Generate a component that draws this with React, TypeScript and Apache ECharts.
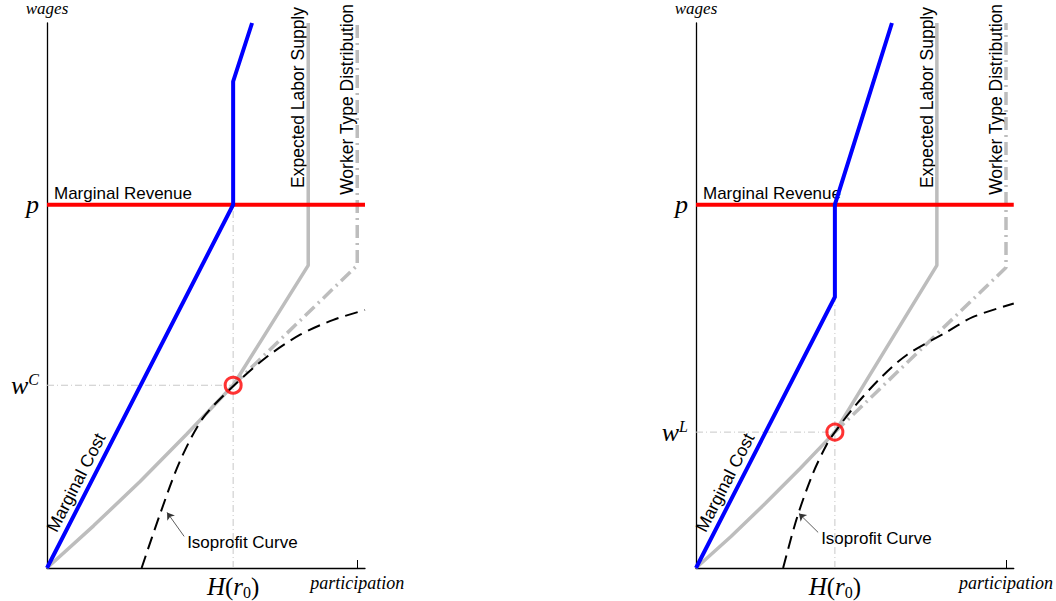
import React, { useEffect, useRef } from "react";
import * as echarts from "echarts";

// ---------- data (x: participation, y: wages; p = 1) ----------
const X_MAX = 1.025;
const Y_MAX = 1.5;
const P_LEVEL = 1;
const X_END = 1.0; // participation tick

const hLeft = 0.6; // H(r0) in left panel
const wLeft = 0.503; // w^C
const hRight = 0.448; // H(r0) in right panel
const wRight = 0.374; // w^L

const mrLine = [[0, 1], [1.025, 1]];

const mcLeft = [[0, 0], [0.6, 1], [0.6, 1.339], [0.661, 1.5]];
const mcRight = [[0, 0], [0.448, 0.746], [0.448, 1.0], [0.632, 1.5]];

const elsLeft = [[0, 0], [0.15, 0.116], [0.3, 0.238], [0.45, 0.368], [0.6, 0.503], [0.842, 0.833], [0.842, 1.5]];
const elsRight = [[0, 0], [0.112, 0.086], [0.224, 0.178], [0.336, 0.274], [0.448, 0.374], [0.777, 0.833], [0.777, 1.5]];

const wtdLeft = [[0.6, 0.503], [1.0, 0.833], [1.0, 1.5]];
const wtdRight = [[0.448, 0.374], [1.0, 0.827], [1.0, 1.5]];

const isoLeft = [[0.305, 0], [0.365, 0.15], [0.429, 0.295], [0.503, 0.413], [0.6, 0.5], [0.71, 0.582], [0.816, 0.642], [0.923, 0.683], [1.025, 0.71]];
const isoRight = [[0.281, 0], [0.326, 0.139], [0.377, 0.26], [0.423, 0.342], [0.448, 0.374], [0.506, 0.439], [0.594, 0.522], [0.681, 0.587], [0.81, 0.65], [0.894, 0.691], [1.025, 0.728]];

const arrowLeft = [[0.442, 0.087], [0.387, 0.153]];
const arrowRight = [[0.394, 0.098], [0.332, 0.15]];

const yLabelsLeft = [wLeft, P_LEVEL];
const yLabelsRight = [wRight, P_LEVEL];
const xLabelsLeft = [hLeft, X_END];
const xLabelsRight = [hRight, X_END];

const sans = "'Liberation Sans', Arial, sans-serif";
const serif = "'Liberation Serif', 'Times New Roman', serif";

const BLUE = "#0000ff";
const RED = "#ff0000";
const GRAY = "#bdbdbd";
const LIGHT = "#c8c8c8";

function panelSeries(i: number, d: any) {
  const ax = { xAxisIndex: i, yAxisIndex: i };
  const base = { type: "line", symbol: "none", silent: true, ...ax };
  return [
    { ...base, data: [[0, d.w], [d.h, d.w]], lineStyle: { color: LIGHT, width: 1, type: [7, 3, 1, 3] }, z: 1 },
    { ...base, data: [[d.h, 0], [d.h, d.vTop]], lineStyle: { color: LIGHT, width: 1, type: [7, 3, 1, 3] }, z: 1 },
    { ...base, data: d.wtd, lineStyle: { color: GRAY, width: 3.5, type: [13, 5, 2, 5] }, z: 2 },
    { ...base, data: d.els, lineStyle: { color: GRAY, width: 3.5 }, z: 3 },
    {
      ...base,
      data: d.iso,
      smooth: 0.3,
      lineStyle: { color: "#000", width: 2, type: [13, 7] },
      z: 4,
      markLine: {
        silent: true,
        symbol: ["none", "arrow"],
        symbolSize: 7,
        label: { show: false },
        lineStyle: { color: "#333", width: 0.8, type: "solid" },
        data: [[{ coord: d.arrow[0] }, { coord: d.arrow[1] }]],
      },
    },
    { ...base, data: mrLine, lineStyle: { color: RED, width: 4 }, z: 5 },
    { ...base, data: d.mc, lineStyle: { color: BLUE, width: 4, join: "miter" }, z: 6 },
    {
      type: "scatter",
      ...ax,
      silent: true,
      data: [[d.h, d.w]],
      symbol: "circle",
      symbolSize: 16,
      itemStyle: { color: "rgba(0,0,0,0)", borderColor: RED, borderWidth: 3 },
      z: 7,
    },
  ];
}

const richStyles = {
  it: { fontFamily: serif, fontStyle: "italic", fontSize: 26, color: "#000", lineHeight: 28 },
  sup: { fontFamily: serif, fontStyle: "italic", fontSize: 16, color: "#000", verticalAlign: "top", lineHeight: 16 },
  m: { fontFamily: serif, fontSize: 25, color: "#000", lineHeight: 28 },
  mi: { fontFamily: serif, fontStyle: "italic", fontSize: 25, color: "#000", lineHeight: 28 },
  sub: { fontFamily: serif, fontSize: 16, color: "#000", verticalAlign: "bottom", lineHeight: 18 },
  small: { fontFamily: serif, fontStyle: "italic", fontSize: 18, color: "#000", lineHeight: 22 },
};

function makeX(i: number, labels: number[]) {
  return {
    type: "value",
    gridIndex: i,
    min: 0,
    max: X_MAX,
    axisLine: { show: true, onZero: false, lineStyle: { color: "#000", width: 1.3 } },
    splitLine: { show: false },
    axisTick: { show: true, inside: true, length: 8, customValues: [X_END], lineStyle: { color: "#000", width: 1 } },
    axisLabel: {
      show: true,
      customValues: labels,
      margin: 4,
      formatter: (v: number) => (Math.abs(v - X_END) < 1e-6 ? "{small|participation}" : "{mi|H}{m|(}{mi|r}{sub|0}{m|)}"),
      rich: richStyles,
    },
  };
}

function makeY(i: number, labels: number[], supTxt: string) {
  return {
    type: "value",
    gridIndex: i,
    min: 0,
    max: Y_MAX,
    name: "wages",
    nameLocation: "end",
    nameGap: 6,
    nameTextStyle: { fontFamily: serif, fontStyle: "italic", fontSize: 17, color: "#000", align: "center" },
    axisLine: { show: true, onZero: false, lineStyle: { color: "#000", width: 1.3 } },
    splitLine: { show: false },
    axisTick: { show: false },
    axisLabel: {
      show: true,
      customValues: labels,
      margin: 8,
      formatter: (v: number) => (Math.abs(v - P_LEVEL) < 1e-6 ? "{it|p}" : "{it|w}{sup|" + supTxt + "}"),
      rich: richStyles,
    },
  };
}

export default function App() {
  const ref = useRef<HTMLDivElement>(null);
  useEffect(() => {
    if (!ref.current) return;
    const chart = echarts.init(ref.current, null, { renderer: "svg" });
    const panels = [
      { h: hLeft, w: wLeft, vTop: P_LEVEL, mc: mcLeft, els: elsLeft, wtd: wtdLeft, iso: isoLeft, arrow: arrowLeft },
      { h: hRight, w: wRight, vTop: mcRight[1][1], mc: mcRight, els: elsRight, wtd: wtdRight, iso: isoRight, arrow: arrowRight },
    ];
    const option: any = {
      animation: false,
      grid: [
        { left: 47, top: 19, width: 318, height: 549 },
        { left: 696, top: 19, width: 318, height: 549 },
      ],
      xAxis: [makeX(0, xLabelsLeft), makeX(1, xLabelsRight)],
      yAxis: [makeY(0, yLabelsLeft, "C"), makeY(1, yLabelsRight, "L")],
      series: [...panelSeries(0, panels[0]), ...panelSeries(1, panels[1])],
    };
    chart.setOption(option);

    const graphics: any[] = [];
    const txt = (x: number, y: number, text: string, extra: any = {}, rot = 0) =>
      graphics.push({
        type: "text",
        x,
        y,
        rotation: rot,
        silent: true,
        style: { text, fill: "#000", font: "17px " + sans, align: "left", verticalAlign: "middle", ...extra },
      });

    panels.forEach((d, i) => {
      const px = (pt: number[]) => chart.convertToPixel({ gridIndex: i } as any, pt) as number[];
      // Marginal Revenue
      const mr0 = px([0, P_LEVEL]);
      txt(mr0[0] + 7, mr0[1] - 11, "Marginal Revenue");
      // Marginal Cost, rotated along the blue line
      const a0 = px(d.mc[0]);
      const a1 = px(d.mc[1]);
      const ang = Math.atan2(a0[1] - a1[1], a1[0] - a0[0]);
      const onLine = px([0.131, 0.219]);
      const off = 13;
      txt(onLine[0] - off * Math.sin(ang), onLine[1] - off * Math.cos(ang), "Marginal Cost", { align: "center", font: "17.5px " + sans }, ang);
      // vertical labels
      const els = px([d.els[d.els.length - 1][0], 1.046]);
      txt(els[0] - 10, els[1], "Expected Labor Supply", { font: "17.5px " + sans }, Math.PI / 2);
      const wtd = px([d.wtd[d.wtd.length - 1][0], 1.027]);
      txt(wtd[0] - 10.5, wtd[1], "Worker Type Distribution", { font: "17.5px " + sans }, Math.PI / 2);
      // Isoprofit
      const ar = px(d.arrow[0]);
      txt(ar[0] + 3, ar[1] + 6, "Isoprofit Curve");
    });
    chart.setOption({ graphic: graphics });
    return () => chart.dispose();
  }, []);
  return <div ref={ref} style={{ position: "absolute", left: 0, top: 0, width: 1056, height: 601 }} />;
}
